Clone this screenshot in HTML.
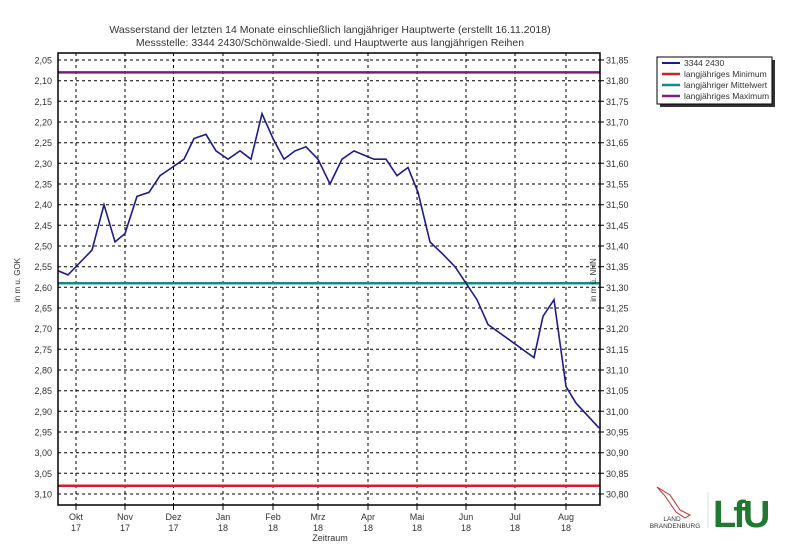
<!DOCTYPE html>
<html><head><meta charset="utf-8"><style>
body{margin:0;background:#fff;}
svg{font-family:"Liberation Sans",Arial,sans-serif;display:block;}
</style></head><body>
<svg width="800" height="553" viewBox="0 0 800 553" xmlns="http://www.w3.org/2000/svg">
<rect width="800" height="553" fill="#fff"/>
<text x="330" y="33" font-size="10.5" text-anchor="middle" fill="#333">Wasserstand der letzten 14 Monate einschließlich langjähriger Hauptwerte    (erstellt  16.11.2018)</text>
<text x="330" y="46" font-size="10.5" text-anchor="middle" fill="#333">Messstelle: 3344 2430/Schönwalde-Siedl. und Hauptwerte aus langjährigen Reihen</text>
<path stroke="#000" stroke-width="1" stroke-dasharray="3,3" fill="none" d="M58 60H600M58 80.7H600M58 101.3H600M58 122H600M58 142.7H600M58 163.3H600M58 184H600M58 204.7H600M58 225.3H600M58 246H600M58 266.7H600M58 287.3H600M58 308H600M58 328.7H600M58 349.3H600M58 370H600M58 390.7H600M58 411.3H600M58 432H600M58 452.7H600M58 473.3H600M58 494H600
M76 53V505M125 53V505M173.5 53V505M223 53V505M273 53V505M318 53V505M368 53V505M417 53V505M466 53V505M515 53V505M566 53V505"/>
<path stroke="#000" stroke-width="1" fill="none" d="M600 60h4M600 80.7h4M600 101.3h4M600 122h4M600 142.7h4M600 163.3h4M600 184h4M600 204.7h4M600 225.3h4M600 246h4M600 266.7h4M600 287.3h4M600 308h4M600 328.7h4M600 349.3h4M600 370h4M600 390.7h4M600 411.3h4M600 432h4M600 452.7h4M600 473.3h4M600 494h4
M76 505v5M125 505v5M173.5 505v5M223 505v5M273 505v5M318 505v5M368 505v5M417 505v5M466 505v5M515 505v5M566 505v5"/>
<g font-size="9" text-anchor="end" fill="#333">
<text x="52" y="63.5">2,05</text><text x="52" y="84.2">2,10</text><text x="52" y="104.8">2,15</text><text x="52" y="125.5">2,20</text><text x="52" y="146.2">2,25</text><text x="52" y="166.8">2,30</text><text x="52" y="187.5">2,35</text><text x="52" y="208.2">2,40</text><text x="52" y="228.8">2,45</text><text x="52" y="249.5">2,50</text><text x="52" y="270.2">2,55</text><text x="52" y="290.8">2,60</text><text x="52" y="311.5">2,65</text><text x="52" y="332.2">2,70</text><text x="52" y="352.8">2,75</text><text x="52" y="373.5">2,80</text><text x="52" y="394.2">2,85</text><text x="52" y="414.8">2,90</text><text x="52" y="435.5">2,95</text><text x="52" y="456.2">3,00</text><text x="52" y="476.8">3,05</text><text x="52" y="497.5">3,10</text>
</g>
<g font-size="9" fill="#333">
<text x="606" y="63.5">31,85</text><text x="606" y="84.2">31,80</text><text x="606" y="104.8">31,75</text><text x="606" y="125.5">31,70</text><text x="606" y="146.2">31,65</text><text x="606" y="166.8">31,60</text><text x="606" y="187.5">31,55</text><text x="606" y="208.2">31,50</text><text x="606" y="228.8">31,45</text><text x="606" y="249.5">31,40</text><text x="606" y="270.2">31,35</text><text x="606" y="290.8">31,30</text><text x="606" y="311.5">31,25</text><text x="606" y="332.2">31,20</text><text x="606" y="352.8">31,15</text><text x="606" y="373.5">31,10</text><text x="606" y="394.2">31,05</text><text x="606" y="414.8">31,00</text><text x="606" y="435.5">30,95</text><text x="606" y="456.2">30,90</text><text x="606" y="476.8">30,85</text><text x="606" y="497.5">30,80</text>
</g>
<g font-size="9" text-anchor="middle" fill="#333">
<text x="76" y="520">Okt</text><text x="76" y="531">17</text>
<text x="125" y="520">Nov</text><text x="125" y="531">17</text>
<text x="173.5" y="520">Dez</text><text x="173.5" y="531">17</text>
<text x="223" y="520">Jan</text><text x="223" y="531">18</text>
<text x="273" y="520">Feb</text><text x="273" y="531">18</text>
<text x="318" y="520">Mrz</text><text x="318" y="531">18</text>
<text x="368" y="520">Apr</text><text x="368" y="531">18</text>
<text x="417" y="520">Mai</text><text x="417" y="531">18</text>
<text x="466" y="520">Jun</text><text x="466" y="531">18</text>
<text x="515" y="520">Jul</text><text x="515" y="531">18</text>
<text x="566" y="520">Aug</text><text x="566" y="531">18</text>
<text x="330" y="541">Zeitraum</text>
</g>
<line x1="58" x2="600" y1="72.4" y2="72.4" stroke="#7a1f7a" stroke-width="2.5"/>
<line x1="58" x2="600" y1="485.7" y2="485.7" stroke="#d0202a" stroke-width="2.5"/>
<line x1="58" x2="600" y1="283.2" y2="283.2" stroke="#148a80" stroke-width="2.5"/>
<polyline fill="none" stroke="#1c1c8a" stroke-width="1.6" points="58,270.8 68,274.9 80,262.5 92,250.1 104,204.7 115,241.9 125,233.6 137,196.4 149,192.3 160,175.7 172,167.5 184,159.2 194,138.5 206,134.4 216,150.9 228,159.2 240,150.9 251,159.2 262,113.7 273,138.5 284,159.2 295,150.9 306,146.8 318,159.2 330,184 342,159.2 354,150.9 364,155.1 374,159.2 386,159.2 397,175.7 408,167.5 418,192.3 430,241.9 443,254.3 455,266.7 466,283.2 477,299.7 488,324.5 534,357.6 543,316.3 554,299.7 566,386.5 576,403.1 599,427.9"/>
<rect x="58" y="53" width="542" height="452" fill="none" stroke="#000" stroke-width="1.5"/>
<text transform="translate(20,280) rotate(-90)" font-size="8" text-anchor="middle" fill="#333">in m u. GOK</text>
<text transform="translate(596,280) rotate(-90)" font-size="8" text-anchor="middle" fill="#333">in m ü. NHN</text>
<rect x="660" y="60" width="115" height="47" fill="#333"/>
<rect x="657" y="57" width="115" height="47" fill="#fff" stroke="#000"/>
<g font-size="8.5" fill="#333">
<line x1="662" x2="680" y1="63" y2="63" stroke="#1c1c8a" stroke-width="2"/><text x="684" y="66">3344 2430</text>
<line x1="662" x2="680" y1="74" y2="74" stroke="#d0202a" stroke-width="2.5"/><text x="684" y="77">langjähriges Minimum</text>
<line x1="662" x2="680" y1="85" y2="85" stroke="#148a80" stroke-width="2.5"/><text x="684" y="88">langjähriger Mittelwert</text>
<line x1="662" x2="680" y1="96" y2="96" stroke="#7a1f7a" stroke-width="2.5"/><text x="684" y="99">langjähriges Maximum</text>
</g>
<path d="M657 487 L670 495 L680 510 L690 515 L685 518 L676 512 L665 496 Z" fill="none" stroke="#c03030" stroke-width="1"/>
<text x="672" y="521" font-size="6.5" text-anchor="middle" fill="#333">LAND</text>
<text x="675" y="528" font-size="6.5" text-anchor="middle" fill="#333">BRANDENBURG</text>
<line x1="708" x2="708" y1="492" y2="528" stroke="#ddd"/>
<text x="713" y="527" font-size="38" font-weight="bold" fill="#1f7a2e" letter-spacing="-3">LfU</text>
</svg>
</body></html>
